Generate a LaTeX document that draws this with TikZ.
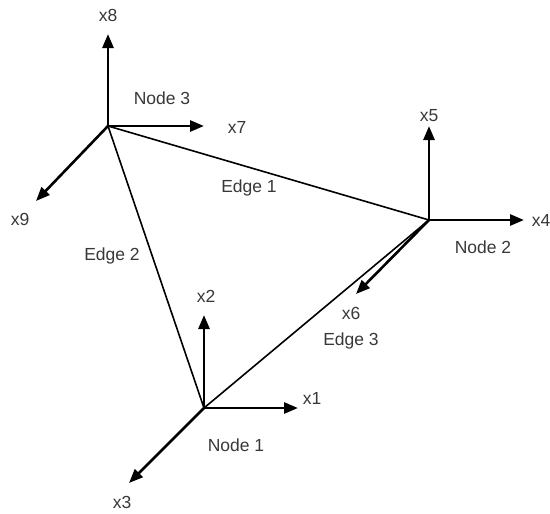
\documentclass[tikz,border=0pt]{standalone}
\usepackage{fontspec}
\setmainfont{Liberation Sans}
\usetikzlibrary{arrows.meta}
\begin{document}
\begin{tikzpicture}[x=1pt,y=-1pt,
  axis/.style={line width=2.6pt,-{Triangle[length=14pt,width=11pt]}},
  edge/.style={line width=1.6pt},
  lbl/.style={font=\fontsize{17.5}{20}\selectfont,text=black!78,inner sep=0pt}]
\useasboundingbox (0,0) rectangle (550,514);
% origins
\coordinate (n1) at (204,408);
\coordinate (n2) at (429,220);
\coordinate (n3) at (108,126);
% axis tips
\coordinate (t1) at (298,408);
\coordinate (t2) at (204,315);
\coordinate (t3) at (129,483);
\coordinate (t4) at (524,220);
\coordinate (t5) at (429,126);
\coordinate (t6) at (356,294);
\coordinate (t7) at (204,126);
\coordinate (t8) at (108,34);
\coordinate (t9) at (36,201);
% edges
\draw[edge] (n3) -- (n2);
\draw[edge] (n3) -- (n1);
\draw[edge] (n1) -- (n2);
% axes
\draw[axis] (n1) -- (t1);
\draw[axis] (n1) -- (t2);
\draw[axis] (n1) -- (t3);
\draw[axis] (n2) -- (t4);
\draw[axis] (n2) -- (t5);
\draw[axis] (n2) -- (t6);
\draw[axis] (n3) -- (t7);
\draw[axis] (n3) -- (t8);
\draw[axis] (n3) -- (t9);
% labels
\node[lbl] (l1) at (312,398) {x1};
\node[lbl] (l2) at (206,296) {x2};
\node[lbl] (l3) at (122,502) {x3};
\node[lbl] (l4) at (541,220) {x4};
\node[lbl] (l5) at (429,116) {x5};
\node[lbl] (l6) at (351,313) {x6};
\node[lbl] (l7) at (237,127) {x7};
\node[lbl] (l8) at (108,15) {x8};
\node[lbl] (l9) at (20,219) {x9};
\node[lbl] (N1) at (236,445) {Node 1};
\node[lbl] (N2) at (483,247) {Node 2};
\node[lbl] (N3) at (162,98) {Node 3};
\node[lbl] (E1) at (249,188) {Edge 1};
\node[lbl] (E2) at (112,256) {Edge 2};
\node[lbl] (E3) at (351,341) {Edge 3};
\end{tikzpicture}
\end{document}
